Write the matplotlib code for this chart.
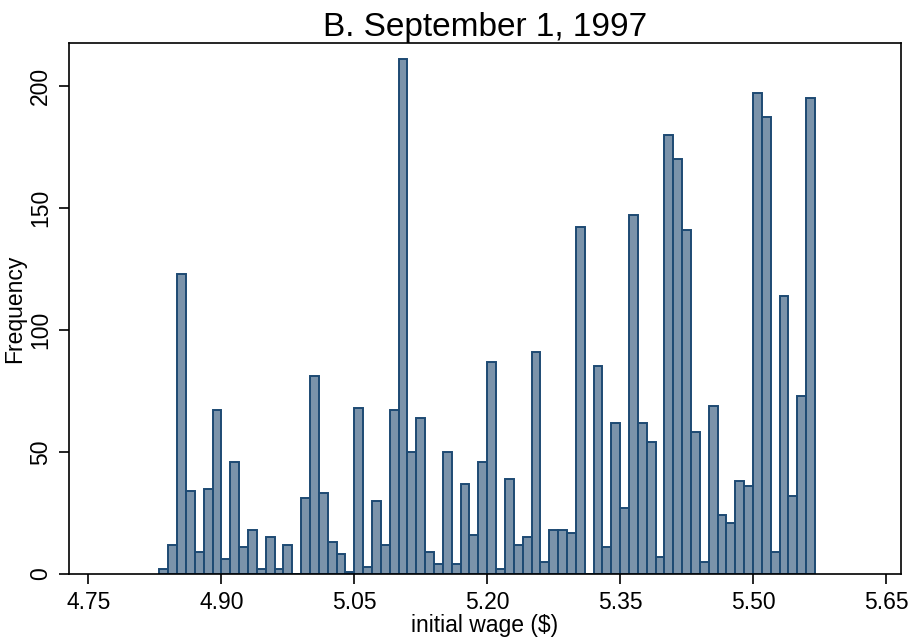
import matplotlib
matplotlib.use("Agg")
import matplotlib.pyplot as plt

plt.rcParams['font.family'] = ['Liberation Sans', 'DejaVu Sans']

# bin left edges (width 0.01) and frequencies
bin_start = 4.83
bin_width = 0.01
freq = [2, 12, 123, 34, 9, 35, 67, 6, 46, 11,
        18, 2, 15, 2, 12, 0, 31, 81, 33, 13,
        8, 1, 68, 3, 30, 12, 67, 211, 50, 64,
        9, 4, 50, 4, 37, 16, 46, 87, 2, 39,
        12, 15, 91, 5, 18, 18, 17, 142, 0, 85,
        11, 62, 27, 147, 62, 54, 7, 180, 170, 141,
        58, 5, 69, 24, 21, 38, 36, 197, 187, 9,
        114, 32, 73, 195]
xticks = [4.75, 4.90, 5.05, 5.20, 5.35, 5.50, 5.65]
yticks = [0, 50, 100, 150, 200]

edges = [bin_start + i * bin_width for i in range(len(freq))]

fig = plt.figure(figsize=(9.09, 6.39), dpi=100)
ax = fig.add_axes([0.0759, 0.1017, 0.9153, 0.831])

ax.bar(edges, freq, width=bin_width, align='edge',
       color='#7b93aa', edgecolor='#1d4a73', linewidth=1.4)

ax.set_xlim(4.728, 5.667)
ax.set_ylim(0, 217.5)
ax.set_xticks(xticks)
ax.set_xticklabels(['%.2f' % t for t in xticks])
ax.set_yticks(yticks)
ax.set_yticklabels([str(t) for t in yticks], rotation=90, va='center')
ax.tick_params(axis='both', labelsize=16.5, length=7, width=1.2,
               direction='out', pad=5)
for s in ax.spines.values():
    s.set_linewidth(1.2)

ax.set_title('B. September 1, 1997', fontsize=24, pad=3)
ax.set_xlabel('initial wage ($)', fontsize=16.5, labelpad=0)
ax.set_ylabel('Frequency', fontsize=16.5, labelpad=2)

fig.savefig('out.png', dpi=100)
